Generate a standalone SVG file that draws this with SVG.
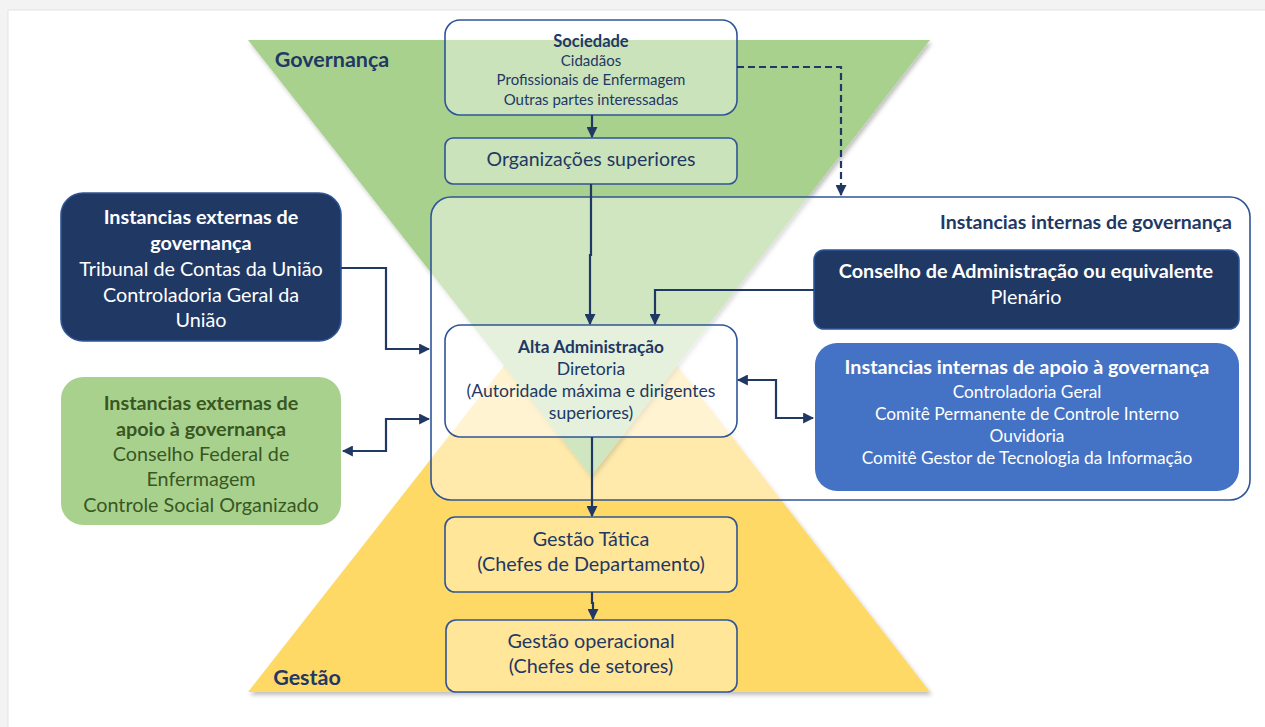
<svg xmlns="http://www.w3.org/2000/svg" width="1265" height="727" viewBox="0 0 1265 727">
<style>
text{font-family:Lato,"Liberation Sans",sans-serif;text-anchor:middle}
.b{font-weight:bold}
.nv{fill:#1f3864}
.wt{fill:#ffffff}
.gr{fill:#385723}
.box{stroke:#2f5597;stroke-width:1.6}
.con{fill:none;stroke:#1f3864;stroke-width:2.2}
</style>
<defs>
<marker id="ah" viewBox="0 0 10 10" refX="9" refY="5" markerWidth="5" markerHeight="5" orient="auto-start-reverse" markerUnits="strokeWidth">
<path d="M0,0 L10,5 L0,10 z" fill="#1f3864"/>
</marker>
<filter id="sh" x="-5%" y="-5%" width="110%" height="110%">
<feDropShadow dx="2" dy="3" stdDeviation="2" flood-color="#000" flood-opacity="0.25"/>
</filter>
</defs>
<rect width="1265" height="727" fill="#f3f3f4"/>
<rect x="8" y="10" width="1262" height="720" fill="#ffffff" stroke="#e2e4e8"/>
<g id="gestao-triangle">
<polygon points="248,692 930,692 591,255" fill="#ffd966" filter="url(#sh)"/>
</g>
<g id="governanca-triangle">
<polygon points="248,40 930,40 591,476" fill="#a9d18e" filter="url(#sh)"/>
</g>
<text class="b nv" x="332" y="67" font-size="21.5">Governança</text>
<text class="b nv" x="307" y="685" font-size="21.5">Gestão</text>
<g id="internas">
<rect class="box" x="431" y="197" width="819" height="303" rx="20" fill="#ffffff" fill-opacity="0.45"/>
<text class="b nv" x="1232" y="229" font-size="19.5" style="text-anchor:end">Instancias internas de governança</text>
</g>
<g id="sociedade">
<rect class="box" x="445" y="20" width="292" height="95" rx="15" fill="#ffffff" fill-opacity="0.4"/>
<text class="b nv" x="591" y="47" font-size="16.5">Sociedade</text>
<text class="nv" x="591" y="66" font-size="15">Cidadãos</text>
<text class="nv" x="591" y="85" font-size="15">Profissionais de Enfermagem</text>
<text class="nv" x="591" y="105" font-size="15">Outras partes interessadas</text>
</g>
<g id="organizacoes">
<rect class="box" x="445" y="138" width="292" height="46" rx="8" fill="#ffffff" fill-opacity="0.4"/>
<text class="nv" x="591" y="166" font-size="19.5">Organizações superiores</text>
</g>
<g id="externas">
<rect class="box" x="61" y="193" width="280" height="148" rx="22" fill="#203864"/>
<text class="b wt" x="201" y="224" font-size="19.8">Instancias externas de</text>
<text class="b wt" x="201" y="250" font-size="19.8">governança</text>
<text class="wt" x="201" y="276" font-size="19.8">Tribunal de Contas da União</text>
<text class="wt" x="201" y="302" font-size="19.8">Controladoria Geral da</text>
<text class="wt" x="201" y="327" font-size="19.8">União</text>
</g>
<g id="externas-apoio">
<rect x="61" y="377" width="280" height="148" rx="22" fill="#a9d18e"/>
<text class="b gr" x="201" y="410" font-size="19.8">Instancias externas de</text>
<text class="b gr" x="201" y="436" font-size="19.8">apoio à governança</text>
<text class="gr" x="201" y="461" font-size="19.8">Conselho Federal de</text>
<text class="gr" x="201" y="486" font-size="19.8">Enfermagem</text>
<text class="gr" x="201" y="512" font-size="19.8">Controle Social Organizado</text>
</g>
<g id="conselho">
<rect class="box" x="814" y="250" width="425" height="79" rx="10" fill="#203864"/>
<text class="b wt" x="1026" y="278" font-size="19.8">Conselho de Administração ou equivalente</text>
<text class="wt" x="1026" y="304" font-size="19.8">Plenário</text>
</g>
<g id="internas-apoio">
<rect x="815" y="343" width="424" height="148" rx="22" fill="#4472c4"/>
<text class="b wt" x="1027" y="374" font-size="19.8">Instancias internas de apoio à governança</text>
<text class="wt" x="1027" y="398" font-size="17.3">Controladoria Geral</text>
<text class="wt" x="1027" y="420" font-size="17.3">Comitê Permanente de Controle Interno</text>
<text class="wt" x="1027" y="442" font-size="17.3">Ouvidoria</text>
<text class="wt" x="1027" y="464" font-size="17.3">Comitê Gestor de Tecnologia da Informação</text>
</g>
<g id="alta">
<rect class="box" x="445" y="325" width="292" height="112" rx="16" fill="#ffffff" fill-opacity="0.45"/>
<text class="b nv" x="591" y="353" font-size="17.3">Alta Administração</text>
<text class="nv" x="591" y="375" font-size="17.6">Diretoria</text>
<text class="nv" x="591" y="397" font-size="17.6">(Autoridade máxima e dirigentes</text>
<text class="nv" x="591" y="419" font-size="17.6">superiores)</text>
</g>
<g id="tatica">
<rect class="box" x="445" y="517" width="292" height="75" rx="10" fill="#ffe699"/>
<text class="nv" x="591" y="546" font-size="19.8">Gestão Tática</text>
<text class="nv" x="591" y="571" font-size="19.8">(Chefes de Departamento)</text>
</g>
<g id="operacional">
<rect class="box" x="446" y="620" width="291" height="72" rx="10" fill="#ffe699"/>
<text class="nv" x="591" y="648" font-size="19.8">Gestão operacional</text>
<text class="nv" x="591" y="673" font-size="19.8">(Chefes de setores)</text>
</g>
<g id="connectors">
<path class="con" d="M592,115 V137" marker-end="url(#ah)"/>
<path class="con" d="M591,184 V255 H590 V324" marker-end="url(#ah)"/>
<path class="con" d="M814,290 H655 V324" marker-end="url(#ah)"/>
<path class="con" d="M737,67 H841 V195" stroke-dasharray="7,4" marker-end="url(#ah)"/>
<path class="con" d="M341,268 H386 V349 H429" marker-end="url(#ah)"/>
<path class="con" d="M343,451 H386 V419 H429" marker-start="url(#ah)" marker-end="url(#ah)"/>
<path class="con" d="M738,380 H776 V418 H813" marker-start="url(#ah)" marker-end="url(#ah)"/>
<path class="con" d="M592,437 V516" marker-end="url(#ah)"/>
<path class="con" d="M592,592 V603 H593 V619" marker-end="url(#ah)"/>
</g>
</svg>
